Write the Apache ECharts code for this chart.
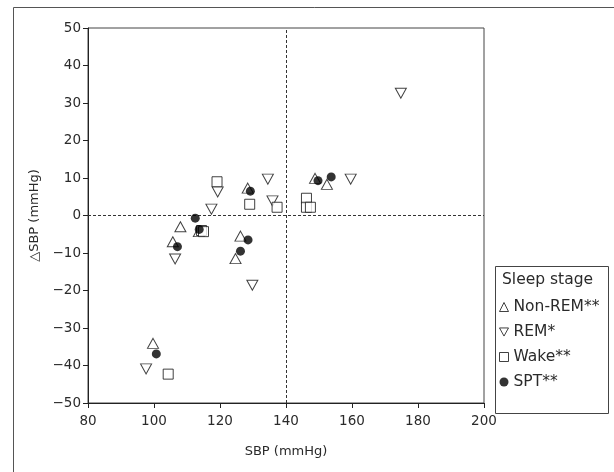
<!DOCTYPE html>
<html>
<head>
<meta charset="utf-8">
<script src="https://cdn.jsdelivr.net/npm/echarts@6/dist/echarts.min.js"></script>
<style>
  html, body { margin: 0; padding: 0; background: #fff; }
  #chart { width: 614px; height: 472px; }
</style>
</head>
<body>
<div id="chart"></div>
<script>
// SBP (x) vs change in SBP (y), one series per sleep stage
const nonRem = [[99.7, -34.1], [105.7, -7.0], [108.0, -3.0], [113.6, -4.3], [124.7, -11.5], [126.2, -5.5], [128.4, 7.3], [148.8, 9.9], [152.4, 8.3]];
const rem    = [[97.6, -40.9], [106.4, -11.6], [117.4, 1.7], [119.3, 6.3], [129.8, -18.6], [134.5, 9.7], [135.9, 3.9], [159.6, 9.7], [174.8, 32.6]];
const wake   = [[104.3, -42.3], [114.4, -4.0], [115.0, -4.3], [119.1, 9.0], [129.0, 3.0], [137.3, 2.2], [146.2, 4.6], [146.2, 2.2], [147.4, 2.2]];
const spt    = [[100.7, -36.9], [107.1, -8.3], [112.5, -0.7], [113.7, -3.7], [126.2, -9.5], [128.5, -6.5], [129.2, 6.5], [149.7, 9.3], [153.7, 10.3]];

const seriesNames = ['Non-REM**', 'REM*', 'Wake**', 'SPT**'];
const legendTitle = 'Sleep stage';
const xTicks = { min: 80, max: 200, step: 20 };
const yTicks = { min: -50, max: 50, step: 10 };
const refX = 140;
const refY = 0;

const FONT = '"DejaVu Sans", sans-serif';
const TXT = '#2a2a2a';
const downTri = 'path://M0,0 L10,0 L5,9 Z';

const chart = echarts.init(document.getElementById('chart'), null, { renderer: 'canvas' });

const hollow = { color: '#fff', borderColor: '#111', borderWidth: 1 };

chart.setOption({
  animation: false,
  backgroundColor: '#fff',
  textStyle: { fontFamily: FONT },
  grid: {
    left: 88, top: 28, width: 396, height: 375,
    show: true, borderColor: '#444', borderWidth: 1, backgroundColor: 'transparent'
  },
  xAxis: {
    type: 'value', min: xTicks.min, max: xTicks.max, interval: xTicks.step,
    name: 'SBP (mmHg)', nameLocation: 'middle', nameGap: 42,
    nameTextStyle: { fontSize: 13, color: TXT, fontFamily: FONT },
    axisLine: { show: true, onZero: false, lineStyle: { color: '#222' } },
    axisTick: { show: true, length: 5, inside: false, lineStyle: { color: '#222' } },
    axisLabel: { fontSize: 13.5, color: TXT, margin: 11, fontFamily: FONT },
    splitLine: { show: false }
  },
  yAxis: {
    type: 'value', min: yTicks.min, max: yTicks.max, interval: yTicks.step,
    name: '\u25B3SBP (mmHg)', nameLocation: 'middle', nameGap: 36, nameRotate: 90,
    nameTextStyle: { fontSize: 13, color: TXT, fontFamily: FONT },
    axisLine: { show: true, onZero: false, lineStyle: { color: '#222' } },
    axisTick: { show: true, length: 5, inside: false, lineStyle: { color: '#222' } },
    axisLabel: { fontSize: 13.5, color: TXT, margin: 7, fontFamily: FONT,
      formatter: v => (v < 0 ? '\u2212' + Math.abs(v) : String(v)) },
    splitLine: { show: false }
  },
  legend: {
    orient: 'vertical', left: 494, top: 294,
    itemWidth: 9, itemHeight: 9, itemGap: 9,
    textStyle: { fontSize: 15.5, color: TXT, fontFamily: FONT },
    data: [
      { name: seriesNames[0], icon: 'triangle', itemStyle: hollow },
      { name: seriesNames[1], icon: downTri, itemStyle: hollow },
      { name: seriesNames[2], icon: 'rect', itemStyle: hollow },
      { name: seriesNames[3], icon: 'circle', itemStyle: { color: '#000', borderWidth: 0 } }
    ]
  },
  graphic: [
    { type: 'rect', left: 11, top: 5, silent: true, z: -1,
      shape: { width: 700, height: 600 },
      style: { fill: 'none', stroke: '#555', lineWidth: 1 } },
    { type: 'rect', left: 493, top: 264, silent: true,
      shape: { width: 113, height: 147 },
      style: { fill: 'none', stroke: '#444', lineWidth: 1 } },
    { type: 'text', left: 502, top: 272, silent: true,
      style: { text: legendTitle, font: '15.5px ' + FONT, fill: TXT } }
  ],
  series: [
    {
      name: seriesNames[0], type: 'scatter', data: nonRem,
      symbol: 'triangle', symbolSize: [11, 10], itemStyle: hollow, z: 2,
      markLine: {
        silent: true, symbol: 'none', label: { show: false },
        lineStyle: { type: [3, 2], color: '#333', width: 1 },
        data: [{ xAxis: refX }, { yAxis: refY }]
      }
    },
    { name: seriesNames[1], type: 'scatter', data: rem,
      symbol: downTri, symbolSize: [11, 10], itemStyle: hollow, z: 3 },
    { name: seriesNames[2], type: 'scatter', data: wake,
      symbol: 'rect', symbolSize: 10, itemStyle: hollow, z: 4 },
    { name: seriesNames[3], type: 'scatter', data: spt,
      symbol: 'circle', symbolSize: 9, itemStyle: { color: '#000' }, z: 5 }
  ]
});
</script>
</body>
</html>
